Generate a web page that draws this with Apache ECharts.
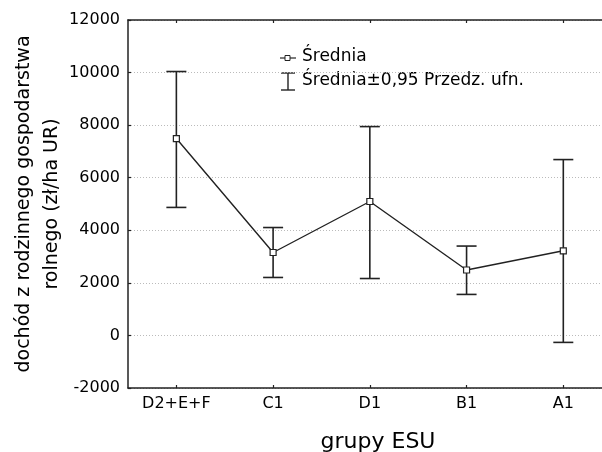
<!DOCTYPE html>
<html>
<head>
<meta charset="utf-8">
<script src="https://cdn.jsdelivr.net/npm/echarts@6/dist/echarts.min.js"></script>
<style>html,body{margin:0;padding:0;background:#fff}#c{width:602px;height:452px}</style>
</head>
<body>
<div id="c"></div>
<script>
const categories = ['D2+E+F', 'C1', 'D1', 'B1', 'A1'];
const means = [7490, 3155, 5095, 2490, 3220];
const lower = [4870, 2205, 2165, 1560, -265];
const upper = [10040, 4105, 7945, 3400, 6690];
const yTicks = { min: -2000, max: 12000, interval: 2000 };
const legendLabels = ['Średnia', 'Średnia±0,95 Przedz. ufn.'];
const xTitle = 'grupy ESU';
const yTitle = 'dochód z rodzinnego gospodarstwa\nrolnego (zł/ha UR)';

const FONT = 'DejaVu Sans';
const INK = '#222';
const catIdx = categories.map((c, i) => i);
const meanData = categories.map((c, i) => [i, means[i]]);
const errData = categories.map((c, i) => [i, lower[i], upper[i]]);

const xBase = {
  type: 'value',
  min: -0.5,
  max: 4.4,
  axisLine: { show: true, onZero: false, lineStyle: { color: INK, width: 1.5 } },
  axisTick: { show: true, inside: true, length: 3, customValues: catIdx, lineStyle: { color: INK, width: 1.2 } },
  splitLine: { show: false }
};

const chart = echarts.init(document.getElementById('c'), null, { renderer: 'canvas' });
chart.setOption({
  animation: false,
  backgroundColor: '#fff',
  grid: { left: 128, top: 20, bottom: 64, right: 0, containLabel: false, outerBoundsMode: 'none' },
  xAxis: [Object.assign({}, xBase, {
    position: 'bottom',
    name: xTitle,
    nameLocation: 'middle',
    nameGap: 43,
    nameMoveOverlap: false,
    nameTextStyle: { fontFamily: FONT, fontSize: 22, color: '#000', padding: [0, 0, 0, 26] },
    axisLabel: {
      fontFamily: FONT, fontSize: 16, color: '#000', margin: 8,
      customValues: catIdx,
      formatter: function (v) { return categories[Math.round(v)] || ''; }
    }
  }), Object.assign({}, xBase, {
    position: 'top',
    axisLabel: { show: false }
  })],
  yAxis: {
    type: 'value',
    min: yTicks.min, max: yTicks.max, interval: yTicks.interval,
    name: yTitle,
    nameLocation: 'middle',
    nameRotate: 90,
    nameGap: 62,
    nameMoveOverlap: false,
    nameTextStyle: { fontFamily: FONT, fontSize: 19, color: '#000', lineHeight: 28, align: 'center' },
    axisLine: { show: true, onZero: false, lineStyle: { color: INK, width: 1.5 } },
    axisTick: { show: true, inside: true, length: 3, lineStyle: { color: INK, width: 1.2 } },
    axisLabel: { fontFamily: FONT, fontSize: 16, color: '#000', margin: 8, formatter: function (v) { return String(v); } },
    splitLine: { show: true, lineStyle: { color: '#bbb', type: [1, 2], width: 1 } }
  },
  series: [{
    name: legendLabels[1],
    type: 'custom',
    xAxisIndex: 0,
    data: errData,
    z: 2,
    renderItem: function (params, api) {
      const x = api.value(0);
      const lo = api.coord([x, api.value(1)]);
      const hi = api.coord([x, api.value(2)]);
      const hw = 10;
      const st = { stroke: INK, lineWidth: 1.6, fill: null };
      return {
        type: 'group',
        children: [
          { type: 'line', shape: { x1: lo[0], y1: lo[1], x2: hi[0], y2: hi[1] }, style: st },
          { type: 'line', shape: { x1: lo[0] - hw, y1: lo[1], x2: lo[0] + hw, y2: lo[1] }, style: st },
          { type: 'line', shape: { x1: hi[0] - hw, y1: hi[1], x2: hi[0] + hw, y2: hi[1] }, style: st }
        ]
      };
    }
  }, {
    name: legendLabels[0],
    type: 'line',
    xAxisIndex: 0,
    data: meanData,
    z: 3,
    symbol: 'rect',
    symbolSize: 6,
    showAllSymbol: true,
    lineStyle: { color: INK, width: 1.4 },
    itemStyle: { color: '#fff', borderColor: INK, borderWidth: 1.2 }
  }],
  graphic: [
    { type: 'line', shape: { x1: 280, y1: 58, x2: 296, y2: 58 }, style: { stroke: INK, lineWidth: 1.2 } },
    { type: 'rect', shape: { x: 285, y: 55.5, width: 5, height: 5 }, style: { fill: '#fff', stroke: INK, lineWidth: 1 } },
    { type: 'text', left: 302, top: 48, style: { text: legendLabels[0], font: '17px "DejaVu Sans"', fill: '#000' } },
    { type: 'line', shape: { x1: 288, y1: 73, x2: 288, y2: 90 }, style: { stroke: INK, lineWidth: 1.4 } },
    { type: 'line', shape: { x1: 281, y1: 73, x2: 295, y2: 73 }, style: { stroke: INK, lineWidth: 1.4 } },
    { type: 'line', shape: { x1: 281, y1: 90, x2: 295, y2: 90 }, style: { stroke: INK, lineWidth: 1.4 } },
    { type: 'text', left: 302, top: 72, style: { text: legendLabels[1], font: '17px "DejaVu Sans"', fill: '#000' } }
  ]
});
</script>
</body>
</html>
